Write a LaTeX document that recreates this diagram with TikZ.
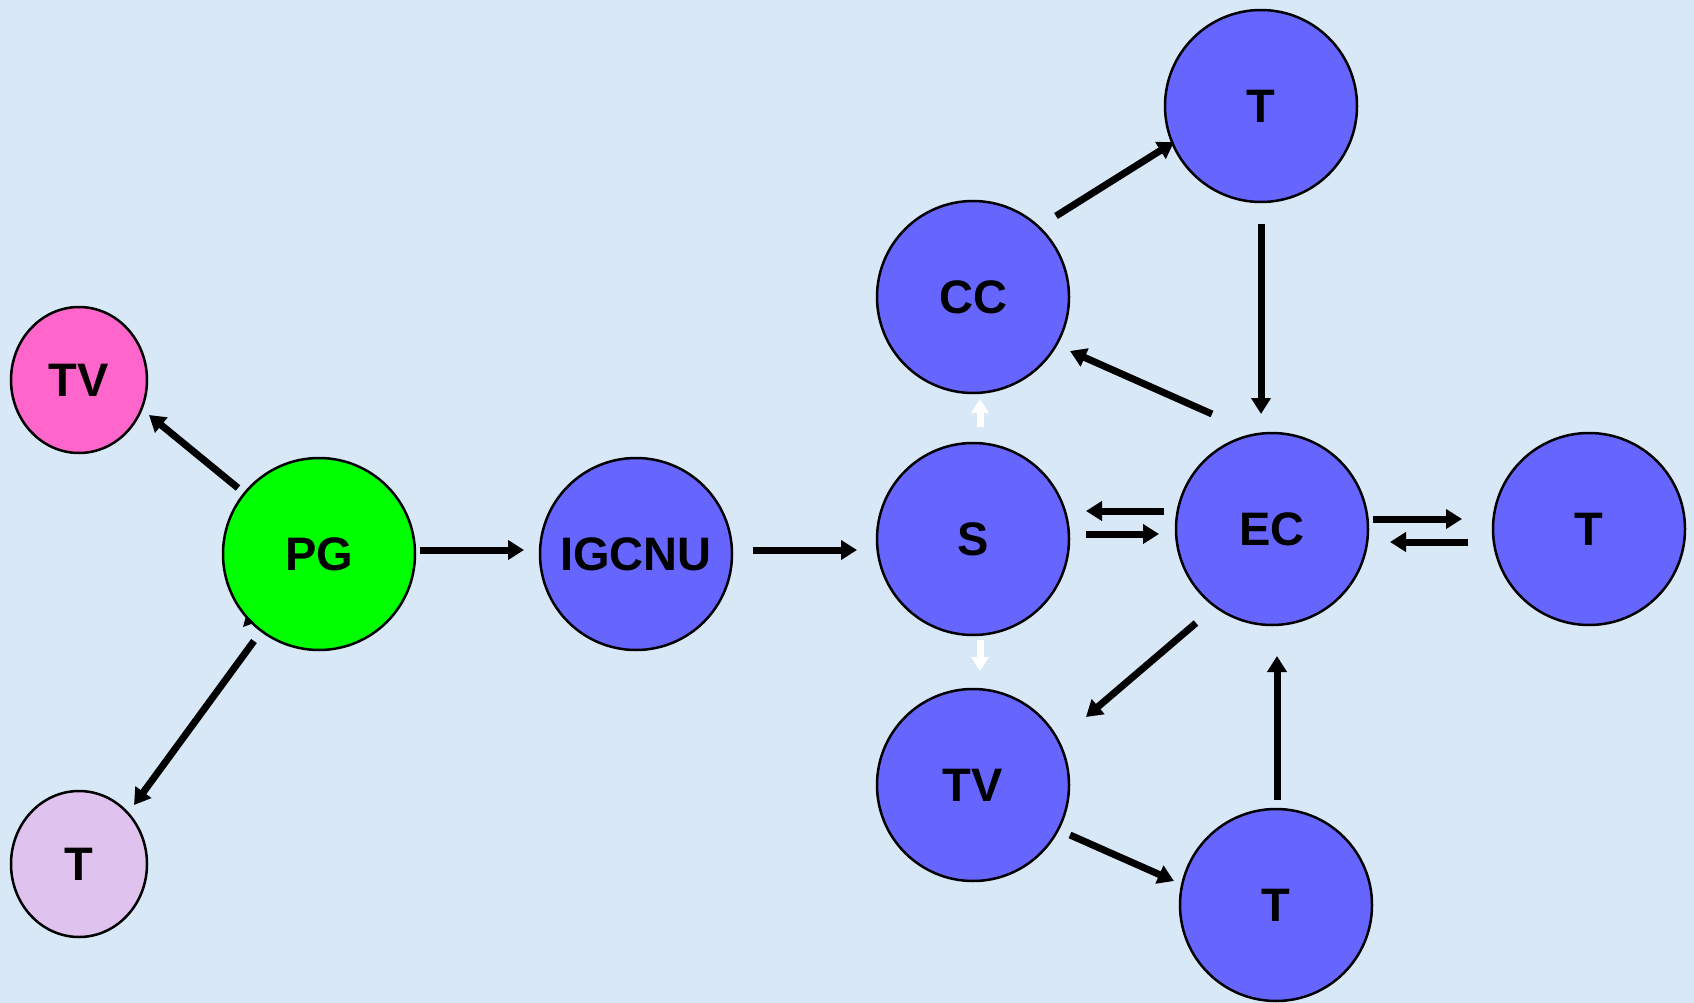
\documentclass[tikz,border=0pt]{standalone}
\usepackage{fontspec}
\setmainfont{Liberation Sans}
\usetikzlibrary{arrows.meta,shapes.geometric}
\definecolor{bg}{HTML}{D9E8F7}
\definecolor{nblue}{HTML}{6666FF}
\definecolor{ngreen}{HTML}{00FF00}
\definecolor{npink}{HTML}{FF66CC}
\definecolor{nlilac}{HTML}{DFC3EE}
\begin{document}
\begin{tikzpicture}[x=1pt,y=-1pt,
  circ/.style={circle,draw=black,line width=2.5pt,minimum size=192pt,inner sep=0pt,fill=nblue,font=\fontsize{47}{47}\selectfont\bfseries},
  small/.style={ellipse,draw=black,line width=2.5pt,minimum width=136pt,minimum height=146pt,inner sep=0pt,font=\fontsize{47}{47}\selectfont\bfseries},
  arr/.style={line width=7pt,-{Triangle[length=16pt,width=19pt]}},
  warr/.style={white,line width=7pt,-{Triangle[length=14pt,width=17pt]}}]
\fill[bg] (0,0) rectangle (1694,1003);
\useasboundingbox (0,0) rectangle (1694,1003);
\node[small,fill=npink] (tv1) at (79,380) {TV};
\node[small,fill=nlilac] (t1) at (79,864) {T};
\node[circ,fill=ngreen] (pg) at (319,554) {PG};
\node[circ] (ig) at (636,554) {IGCNU};
\node[circ] (s) at (973,539) {S};
\node[circ] (cc) at (973,297) {CC};
\node[circ] (ttop) at (1261,106) {T};
\node[circ] (ec) at (1272,529) {EC};
\node[circ] (tr) at (1589,529) {T};
\node[circ] (tv2) at (973,785) {TV};
\node[circ] (tb) at (1276,905) {T};
% connectors
\draw[arr] ([shift={(-81,-66)}]pg.center) -- ([shift={(70,35)}]tv1.center);
\draw[arr] ([shift={(-65,87)}]pg.center) -- ([shift={(55,-59)}]t1.center);
\draw[arr] ([shift={(101,-4)}]pg.center) -- ([shift={(-112,-4)}]ig.center);
\draw[arr] ([shift={(117,-4)}]ig.center) -- ([shift={(-116,11)}]s.center);
\draw[arr] ([shift={(83,-81)}]cc.center) -- ([shift={(-87,36)}]ttop.center);
\draw[arr] ([shift={(0,118)}]ttop.center) -- ([shift={(-11,-115)}]ec.center);
\draw[arr] ([shift={(-60,-115)}]ec.center) -- ([shift={(97,54)}]cc.center);
\draw[arr] ([shift={(-108,-18)}]ec.center) -- ([shift={(113,-28)}]s.center);
\draw[arr] ([shift={(113,-5)}]s.center) -- ([shift={(-113,5)}]ec.center);
\draw[arr] ([shift={(101,-10)}]ec.center) -- ([shift={(-127,-10)}]tr.center);
\draw[arr] ([shift={(-121,13)}]tr.center) -- ([shift={(118,13)}]ec.center);
\draw[arr] ([shift={(-76,94)}]ec.center) -- ([shift={(113,-68)}]tv2.center);
\draw[arr] ([shift={(1,-105)}]tb.center) -- ([shift={(5,127)}]ec.center);
\draw[arr] ([shift={(97,50)}]tv2.center) -- ([shift={(-102,-24)}]tb.center);
% white arrows
\draw[warr] ([shift={(7,-112)}]s.center) -- ([shift={(7,102)}]cc.center);
\draw[warr] ([shift={(7,101)}]s.center) -- ([shift={(7,-114)}]tv2.center);
% tiny arrowhead on PG
\fill[black] (254,623) -- (243,627) -- (246,616) -- cycle;
\end{tikzpicture}
\end{document}
